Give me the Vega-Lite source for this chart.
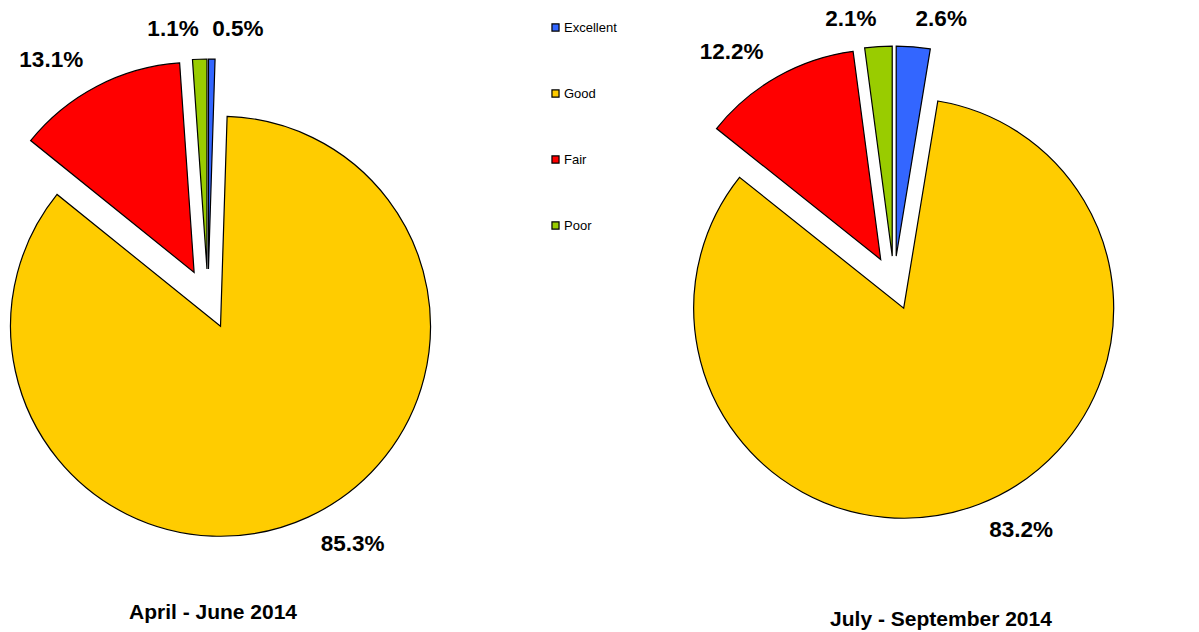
{
  "$schema": "https://vega.github.io/schema/vega-lite/v6.json",
  "padding": 0,
  "background": "white",
  "config": {"view": {"stroke": null}, "font": "Liberation Sans"},
  "data": {"values": [
    {"period": "April - June 2014", "category": "Excellent", "idx": 0, "share": 0.005},
    {"period": "April - June 2014", "category": "Good", "idx": 1, "share": 0.853},
    {"period": "April - June 2014", "category": "Fair", "idx": 2, "share": 0.131},
    {"period": "April - June 2014", "category": "Poor", "idx": 3, "share": 0.011},
    {"period": "July - September 2014", "category": "Excellent", "idx": 0, "share": 0.026},
    {"period": "July - September 2014", "category": "Good", "idx": 1, "share": 0.832},
    {"period": "July - September 2014", "category": "Fair", "idx": 2, "share": 0.122},
    {"period": "July - September 2014", "category": "Poor", "idx": 3, "share": 0.021}
  ]},
  "spacing": 251,
  "hconcat": [
    {
      "width": 416,
      "height": 598,
      "title": {"text": "April - June 2014", "orient": "bottom", "offset": 4, "dx": 5, "fontSize": 21, "fontWeight": "bold", "font": "Liberation Sans", "color": "black"},
      "transform": [
        {"filter": "datum.period == 'April - June 2014'"},
        {"joinaggregate": [{"op": "sum", "field": "share", "as": "total"}]},
        {"window": [{"op": "sum", "field": "share", "as": "cum"}], "sort": [{"field": "idx"}], "frame": [null, 0]},
        {"calculate": "(datum.cum - datum.share) / datum.total", "as": "a0"},
        {"calculate": "datum.cum / datum.total", "as": "a1"},
        {"calculate": "(datum.cum - datum.share / 2) / datum.total", "as": "mid"}
      ],
      "layer": [
        {
          "mark": {"type": "arc", "outerRadius": 210, "stroke": "black", "strokeWidth": 1.2,
            "xOffset": {"expr": "30 * sin(2 * PI * datum.mid)"},
            "yOffset": {"expr": "-30 * cos(2 * PI * datum.mid)"}},
          "encoding": {
            "theta": {"field": "a0", "type": "quantitative", "scale": {"domain": [0, 1]}},
            "theta2": {"field": "a1"},
            "color": {"field": "category", "type": "nominal",
              "scale": {"domain": ["Excellent", "Good", "Fair", "Poor"], "range": ["#3366FF", "#FFCC00", "#FF0000", "#99CC00"]},
              "legend": {"orient": "none", "legendX": 549, "legendY": 21, "title": null, "padding": 0,
                "symbolType": "square", "symbolSize": 50, "symbolStrokeColor": "black", "symbolStrokeWidth": 1.2,
                "labelFontSize": 13, "labelFont": "Liberation Sans", "labelColor": "black", "rowPadding": 52, "labelOffset": 2}}
          }
        },
        {
          "mark": {"type": "text", "radius": 270, "fontSize": 22.5, "fontWeight": "bold", "font": "Liberation Sans", "color": "black", "baseline": "middle",
            "align": {"expr": "datum.mid < 0.5 ? 'left' : 'right'"}},
          "encoding": {
            "theta": {"field": "mid", "type": "quantitative", "stack": null, "scale": {"domain": [0, 1]}},
            "text": {"field": "share", "type": "quantitative", "format": ".1%"}
          }
        }
      ]
    },
    {
      "width": 420,
      "height": 566,
      "title": {"text": "July - September 2014", "orient": "bottom", "offset": 43, "dx": 47, "fontSize": 21, "fontWeight": "bold", "font": "Liberation Sans", "color": "black"},
      "transform": [
        {"filter": "datum.period == 'July - September 2014'"},
        {"joinaggregate": [{"op": "sum", "field": "share", "as": "total"}]},
        {"window": [{"op": "sum", "field": "share", "as": "cum"}], "sort": [{"field": "idx"}], "frame": [null, 0]},
        {"calculate": "(datum.cum - datum.share) / datum.total", "as": "a0"},
        {"calculate": "datum.cum / datum.total", "as": "a1"},
        {"calculate": "(datum.cum - datum.share / 2) / datum.total", "as": "mid"}
      ],
      "layer": [
        {
          "mark": {"type": "arc", "outerRadius": 210, "stroke": "black", "strokeWidth": 1.2,
            "xOffset": {"expr": "27 * sin(2 * PI * datum.mid)"},
            "yOffset": {"expr": "-27 * cos(2 * PI * datum.mid)"}},
          "encoding": {
            "theta": {"field": "a0", "type": "quantitative", "scale": {"domain": [0, 1]}},
            "theta2": {"field": "a1"},
            "color": {"field": "category", "type": "nominal",
              "scale": {"domain": ["Excellent", "Good", "Fair", "Poor"], "range": ["#3366FF", "#FFCC00", "#FF0000", "#99CC00"]},
              "legend": null}
          }
        },
        {
          "mark": {"type": "text", "radius": 265, "fontSize": 22.5, "fontWeight": "bold", "font": "Liberation Sans", "color": "black", "baseline": "middle",
            "align": {"expr": "datum.mid < 0.5 ? 'left' : 'right'"}},
          "encoding": {
            "theta": {"field": "mid", "type": "quantitative", "stack": null, "scale": {"domain": [0, 1]}},
            "text": {"field": "share", "type": "quantitative", "format": ".1%"}
          }
        }
      ]
    }
  ]
}
